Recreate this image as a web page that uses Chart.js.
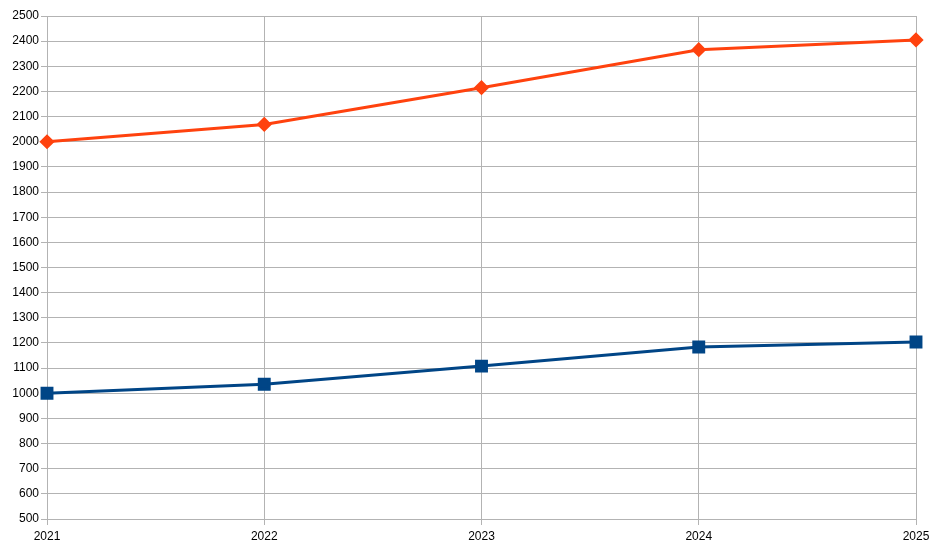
<!DOCTYPE html>
<html>
<head>
<meta charset="utf-8">
<script src="https://cdn.jsdelivr.net/npm/chart.js@4/dist/chart.umd.min.js"></script>
<style>
html,body{margin:0;padding:0;background:#fff;}
#c{display:block;}
</style>
</head>
<body>
<canvas id="c" width="943" height="550"></canvas>
<script>
const categories = ['2021', '2022', '2023', '2024', '2025'];
const seriesOrange = [2000, 2069, 2215, 2366, 2405];
const seriesBlue = [1000, 1036, 1108, 1184, 1204];
const yMin = 500, yMax = 2500, yStep = 100;

const gridColor = '#b3b3b3';
new Chart(document.getElementById('c'), {
  type: 'line',
  data: {
    labels: categories,
    datasets: [
      {
        label: 'Series 1',
        data: seriesOrange,
        borderColor: '#ff420e',
        backgroundColor: '#ff420e',
        borderWidth: 3,
        pointStyle: 'rectRot',
        pointRadius: 5.5,
        pointHoverRadius: 5.5,
        tension: 0,
        fill: false
      },
      {
        label: 'Series 2',
        data: seriesBlue,
        borderColor: '#004586',
        backgroundColor: '#004586',
        borderWidth: 3,
        pointStyle: 'rect',
        pointRadius: 7,
        pointHoverRadius: 7,
        tension: 0,
        fill: false
      }
    ]
  },
  options: {
    responsive: false,
    animation: false,
    devicePixelRatio: 1,
    layout: { padding: { top: 16, right: 27, left: 0, bottom: 0 } },
    plugins: { legend: { display: false }, tooltip: { enabled: false } },
    scales: {
      x: {
        offset: false,
        grid: { color: gridColor, lineWidth: 1, tickLength: 6, drawTicks: true, tickColor: gridColor },
        border: { color: gridColor, width: 1 },
        ticks: { color: '#000', font: { family: 'Liberation Sans', size: 12 }, padding: 4, maxRotation: 0 },
        afterFit: s => { s.height = 31; }
      },
      y: {
        min: yMin,
        max: yMax,
        grid: { color: gridColor, lineWidth: 1, tickLength: 6, tickColor: gridColor },
        border: { color: gridColor, width: 1 },
        ticks: { stepSize: yStep, color: '#000', font: { family: 'Liberation Sans', size: 12 }, padding: 2,
                 callback: v => String(v) },
        afterFit: s => { s.width = 47; }
      }
    }
  }
});
</script>
</body>
</html>
